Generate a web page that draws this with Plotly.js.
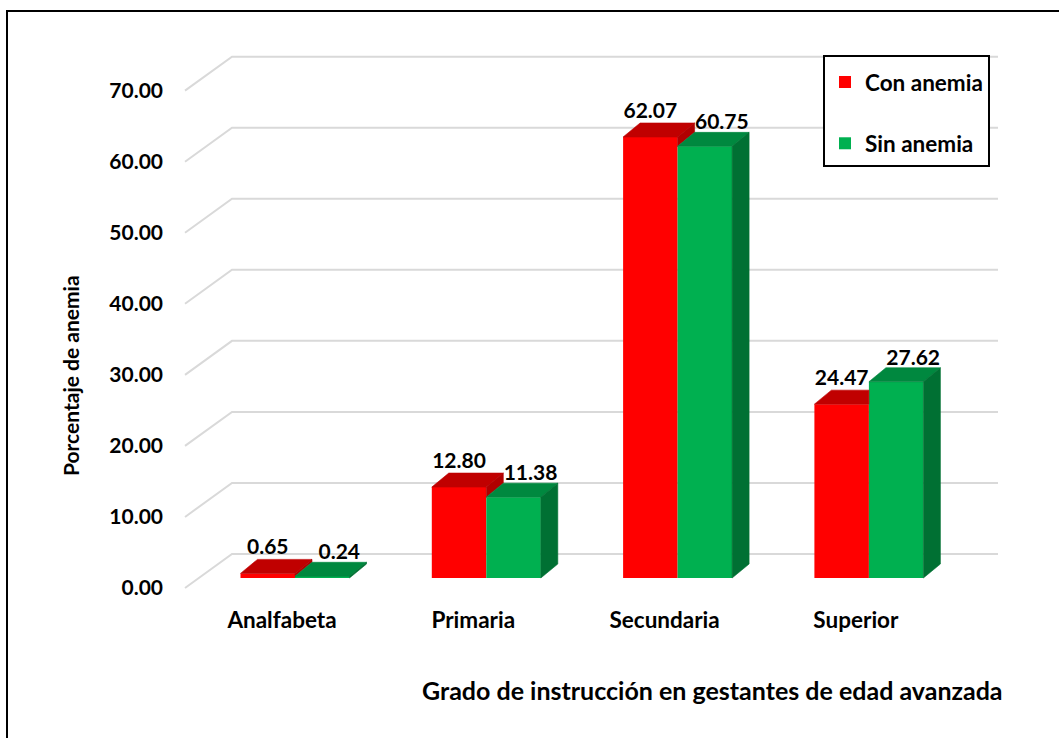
<!DOCTYPE html>
<html>
<head>
<meta charset="utf-8">
<script src="https://cdn.plot.ly/plotly-3.0.1.min.js"></script>
<style>
  html, body { margin: 0; padding: 0; background: #ffffff; }
  #chart { width: 1059px; height: 738px; }
</style>
</head>
<body>
<div id="chart"></div>
<script>
// ---------------- data ----------------
const categories = ['Analfabeta', 'Primaria', 'Secundaria', 'Superior'];
const conAnemia = [0.65, 12.80, 62.07, 24.47];
const sinAnemia = [0.24, 11.38, 60.75, 27.62];
const yTickValues = [0, 10, 20, 30, 40, 50, 60, 70];
const seriesNames = ['Con anemia', 'Sin anemia'];
const yTitle = 'Porcentaje de anemia';
const xTitle = 'Grado de instrucción en gestantes de edad avanzada';

// ---------------- layout geometry (pixels) ----------------
const W = 1059, H = 738;
const PL = 170, PR = 1010, PT = 40, PB = 600;           // plot area
const BAR_ORIGIN_PX = 295, BAR_STEP_PX = 191.3;          // category spacing in the bar plane
const LABEL_ORIGIN_PX = 282, LABEL_STEP_PX = 191.3;      // category labels on the floor's front edge
const BAR_BASE_PX = 578, PX_PER_UNIT = 7.105;            // bar plane vertical scale
const FRONT_BASE_PX = 588;                               // front edge of the floor (tick labels)
const BACK_BASE_PX = 554;                                // back wall
const WALL_LEFT_FRONT_PX = 185, WALL_LEFT_BACK_PX = 232, WALL_RIGHT_PX = 998;
const BAR_W_PX = 54.5, DEPTH_X_PX = 17, DEPTH_Y_PX = 14;

const barX = px => (px - BAR_ORIGIN_PX) / BAR_STEP_PX;
const barY = py => (BAR_BASE_PX - py) / PX_PER_UNIT;
const paperX = px => (px - PL) / (PR - PL);
const paperY = py => (PB - py) / (PB - PT);

const w = BAR_W_PX / BAR_STEP_PX;
const dx = DEPTH_X_PX / BAR_STEP_PX;
const dy = DEPTH_Y_PX / PX_PER_UNIT;
const backShift = (BAR_BASE_PX - BACK_BASE_PX) / PX_PER_UNIT;
const frontShift = (FRONT_BASE_PX - BAR_BASE_PX) / PX_PER_UNIT;
const greenLabelDrop = 2 / PX_PER_UNIT;

const RED = '#FF0000', RED_TOP = '#C00000', RED_SIDE = '#B00000';
const GREEN = '#00B050', GREEN_TOP = '#00883F', GREEN_SIDE = '#007033';
const FONT = 'Lato, "Open Sans", sans-serif';

const idx = categories.map((_, i) => i);

// ---------------- face polygons ----------------
function polyTrace(polys, color) {
  const xs = [], ys = [];
  polys.forEach(p => {
    if (!p) return;
    p.forEach(pt => { xs.push(pt[0]); ys.push(pt[1]); });
    xs.push(p[0][0]); ys.push(p[0][1]);
    xs.push(null); ys.push(null);
  });
  return {
    type: 'scatter', mode: 'lines', x: xs, y: ys, xaxis: 'x2', yaxis: 'y2',
    fill: 'toself', fillcolor: color, line: { color: color, width: 0.6 },
    hoverinfo: 'skip', showlegend: false, connectgaps: false
  };
}

const redTop = idx.map(i => {
  const xl = i - w, xr = i, v = conAnemia[i], g = sinAnemia[i];
  if (g <= v) return [[xl, v], [xr, v], [xr + dx, v + dy], [xl + dx, v + dy]];
  if (g >= v + dy) return [[xl, v], [xr, v], [xr, v + dy], [xl + dx, v + dy]];
  return [[xl, v], [xr, v], [xr, g], [xr + (g - v) * dx / dy, g], [xr + dx, v + dy], [xl + dx, v + dy]];
});
const redSide = idx.map(i => {
  const xr = i, v = conAnemia[i], g = sinAnemia[i];
  if (v <= g) return null;
  return [[xr, g], [xr, v], [xr + dx, v + dy], [xr + dx, g + dy]];
});
const greenTop = idx.map(i => {
  const xl = i, xr = i + w, g = sinAnemia[i];
  return [[xl, g], [xr, g], [xr + dx, g + dy], [xl + dx, g + dy]];
});
const greenSide = idx.map(i => {
  const xr = i + w, g = sinAnemia[i];
  return [[xr, 0], [xr, g], [xr + dx, g + dy], [xr + dx, dy]];
});

const labelFont = { family: FONT, size: 21, color: '#000', weight: 700 };

const traces = [
  // carrier for the category / percentage axes (no marks)
  { type: 'scatter', mode: 'markers', x: [], y: [], xaxis: 'x', yaxis: 'y', showlegend: false, hoverinfo: 'skip' },
  {
    type: 'bar', name: seriesNames[0], x: idx, y: conAnemia, xaxis: 'x2', yaxis: 'y2',
    width: w, offset: -w, marker: { color: RED, line: { width: 0 } },
    legendgroup: 'a', hovertemplate: '%{y:.2f}<extra>' + seriesNames[0] + '</extra>'
  },
  {
    type: 'bar', name: seriesNames[1], x: idx, y: sinAnemia, xaxis: 'x2', yaxis: 'y2',
    width: w, offset: 0, marker: { color: GREEN, line: { width: 0 } },
    legendgroup: 'b', hovertemplate: '%{y:.2f}<extra>' + seriesNames[1] + '</extra>'
  },
  polyTrace(redTop, RED_TOP),
  polyTrace(redSide, RED_SIDE),
  polyTrace(greenTop, GREEN_TOP),
  polyTrace(greenSide, GREEN_SIDE),
  {
    type: 'scatter', mode: 'text', xaxis: 'x2', yaxis: 'y2',
    x: idx.map(i => i - w / 2), y: conAnemia.map(v => v + dy),
    text: conAnemia.map(v => v.toFixed(2)), textposition: 'top center',
    textfont: labelFont, hoverinfo: 'skip', showlegend: false
  },
  {
    type: 'scatter', mode: 'text', xaxis: 'x2', yaxis: 'y2',
    x: idx.map(i => i + w / 2 + dx), y: sinAnemia.map(v => v + dy - greenLabelDrop),
    text: sinAnemia.map(v => v.toFixed(2)), textposition: 'top center',
    textfont: labelFont, hoverinfo: 'skip', showlegend: false
  }
];

// ---------------- gridlines (back wall + left wall) ----------------
const shapes = yTickValues.map(v => ({
  type: 'path', xref: 'x2', yref: 'y2', layer: 'below',
  path: 'M' + barX(WALL_LEFT_FRONT_PX) + ',' + (v - frontShift) +
        ' L' + barX(WALL_LEFT_BACK_PX) + ',' + (v + backShift) +
        ' L' + barX(WALL_RIGHT_PX) + ',' + (v + backShift),
  line: { color: '#D9D9D9', width: 2 }
}));
// chart border
shapes.push({
  type: 'rect', xref: 'paper', yref: 'paper', layer: 'above',
  x0: paperX(7), x1: paperX(1064), y0: paperY(11), y1: paperY(760),
  line: { color: '#000000', width: 2 }, fillcolor: 'rgba(0,0,0,0)'
});

const layout = {
  width: W, height: H,
  margin: { l: PL, r: W - PR, t: PT, b: H - PB, pad: 0 },
  paper_bgcolor: '#ffffff', plot_bgcolor: 'rgba(0,0,0,0)',
  font: { family: FONT, color: '#000000', weight: 700 },
  showlegend: true,
  barmode: 'overlay',
  xaxis: {
    anchor: 'y', range: [(PL - LABEL_ORIGIN_PX) / LABEL_STEP_PX, (PR - LABEL_ORIGIN_PX) / LABEL_STEP_PX],
    tickmode: 'array', tickvals: idx, ticktext: categories,
    showgrid: false, zeroline: false, showline: false, ticks: '',
    tickfont: { family: FONT, size: 22.5, color: '#000', weight: 700 },
    ticklabelstandoff: 4, fixedrange: true
  },
  yaxis: {
    anchor: 'x', range: [(FRONT_BASE_PX - PB) / PX_PER_UNIT, (FRONT_BASE_PX - PT) / PX_PER_UNIT],
    tickmode: 'array', tickvals: yTickValues, ticktext: yTickValues.map(v => v.toFixed(2)),
    showgrid: false, zeroline: false, showline: false, ticks: '',
    tickfont: { family: FONT, size: 21, color: '#000', weight: 700 },
    ticklabelstandoff: 6, fixedrange: true
  },
  xaxis2: {
    overlaying: 'x', anchor: 'y2', range: [barX(PL), barX(PR)],
    visible: false, fixedrange: true
  },
  yaxis2: {
    overlaying: 'y', anchor: 'x2', range: [barY(PB), barY(PT)],
    visible: false, fixedrange: true
  },
  legend: {
    x: paperX(823), y: paperY(55), xanchor: 'left', yanchor: 'top',
    bgcolor: '#ffffff', bordercolor: '#000000', borderwidth: 2,
    font: { family: FONT, size: 22.5, color: '#000', weight: 700 },
    title: { text: '\u00a0', font: { size: 3 } },
    tracegroupgap: 29, traceorder: 'grouped'
  },
  shapes: shapes,
  annotations: [
    {
      text: yTitle, xref: 'paper', yref: 'paper', x: paperX(70), y: paperY(376),
      xanchor: 'center', yanchor: 'middle', textangle: -90, showarrow: false,
      font: { family: FONT, size: 21, color: '#000', weight: 700 }
    },
    {
      text: xTitle, xref: 'paper', yref: 'paper', x: paperX(712), y: paperY(690),
      xanchor: 'center', yanchor: 'middle', showarrow: false,
      font: { family: FONT, size: 25, color: '#000', weight: 700 }
    }
  ]
};

Plotly.newPlot('chart', traces, layout, { displayModeBar: false, staticPlot: false });
</script>
</body>
</html>
